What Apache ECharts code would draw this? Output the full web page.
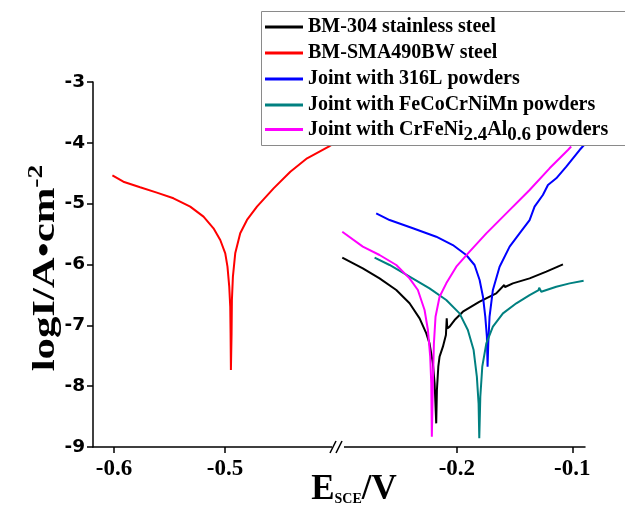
<!DOCTYPE html>
<html>
<head>
<meta charset="utf-8">
<script src="https://cdn.jsdelivr.net/npm/echarts@6/dist/echarts.min.js"></script>
<style>html,body{margin:0;padding:0;background:#fff}#c{width:625px;height:509px}</style>
</head>
<body>
<div id="c"></div>
<script>
// ---- data (E vs SCE in V, log current density) ----
const seriesNames = ['BM-304 stainless steel', 'BM-SMA490BW steel', 'Joint with 316L powders', 'Joint with FeCoCrNiMn powders', 'Joint with CrFeNi2.4Al0.6 powders'];
const seriesColors = ['#000000', '#ff0000', '#0000ff', '#008080', '#ff00ff'];
const leftTicks = [-0.6, -0.5];
const rightTicks = [-0.2, -0.1];
const yTicks = [-9, -8, -7, -6, -5, -4, -3];

const bm304 = [[-0.2993,-5.888],[-0.2815,-6.063],[-0.2670,-6.228],[-0.2525,-6.419],[-0.2410,-6.638],[-0.2323,-6.885],[-0.2265,-7.132],[-0.2237,-7.296],[-0.2208,-7.625],[-0.2193,-7.953],[-0.2179,-8.611],[-0.2173,-8.063],[-0.2161,-7.680],[-0.2150,-7.515],[-0.2121,-7.351],[-0.2095,-7.16],[-0.2088,-6.885],[-0.2083,-7.05],[-0.2063,-7.022],[-0.2020,-6.913],[-0.1948,-6.776],[-0.1803,-6.611],[-0.1659,-6.474],[-0.1590,-6.337],[-0.1583,-6.37],[-0.1515,-6.310],[-0.1370,-6.228],[-0.1225,-6.118],[-0.1081,-5.998]];
const sma490 = [[-0.6015,-4.534],[-0.5916,-4.639],[-0.5765,-4.731],[-0.5614,-4.819],[-0.5464,-4.912],[-0.5313,-5.049],[-0.5193,-5.213],[-0.5103,-5.405],[-0.5042,-5.597],[-0.4997,-5.816],[-0.4977,-6.036],[-0.4961,-6.364],[-0.4952,-6.693],[-0.4949,-7.131],[-0.4946,-7.734],[-0.4940,-7.131],[-0.4937,-6.584],[-0.4928,-6.200],[-0.4907,-5.816],[-0.4862,-5.487],[-0.4801,-5.268],[-0.4711,-5.049],[-0.4561,-4.748],[-0.4410,-4.474],[-0.4259,-4.254],[-0.4064,-4.063],[-0.3950,-3.930]];
const j316L = [[-0.2699,-5.159],[-0.2583,-5.269],[-0.2381,-5.405],[-0.2179,-5.543],[-0.2035,-5.680],[-0.1919,-5.844],[-0.1847,-6.008],[-0.1803,-6.255],[-0.1774,-6.529],[-0.1754,-6.858],[-0.1740,-7.187],[-0.1734,-7.680],[-0.1728,-7.296],[-0.1717,-6.858],[-0.1688,-6.419],[-0.1630,-6.036],[-0.1543,-5.707],[-0.1457,-5.488],[-0.1370,-5.269],[-0.1327,-5.049],[-0.1255,-4.858],[-0.1211,-4.693],[-0.1139,-4.583],[-0.1052,-4.392],[-0.0937,-4.118],[-0.0900,-4.040]];
const jHEA = [[-0.2713,-5.888],[-0.2583,-6.008],[-0.2410,-6.200],[-0.2237,-6.392],[-0.2092,-6.584],[-0.1977,-6.803],[-0.1905,-7.077],[-0.1855,-7.406],[-0.1827,-7.844],[-0.1812,-8.282],[-0.1806,-8.857],[-0.1797,-8.173],[-0.1780,-7.680],[-0.1745,-7.296],[-0.1688,-7.022],[-0.1601,-6.803],[-0.1485,-6.638],[-0.1370,-6.502],[-0.1292,-6.420],[-0.1287,-6.380],[-0.1269,-6.447],[-0.1139,-6.365],[-0.1023,-6.310],[-0.0902,-6.267]];
const jCrFeNi = [[-0.2993,-5.461],[-0.2815,-5.707],[-0.2670,-5.844],[-0.2525,-6.008],[-0.2410,-6.228],[-0.2338,-6.419],[-0.2280,-6.748],[-0.2251,-7.077],[-0.2231,-7.515],[-0.2222,-7.953],[-0.2217,-8.831],[-0.2208,-7.953],[-0.2199,-7.296],[-0.2185,-6.858],[-0.2150,-6.529],[-0.2092,-6.310],[-0.2005,-6.036],[-0.1890,-5.789],[-0.1745,-5.488],[-0.1572,-5.159],[-0.1370,-4.775],[-0.1197,-4.419],[-0.1038,-4.118],[-0.1010,-4.060]];
const seriesData = [bm304, sma490, j316L, jHEA, jCrFeNi];
const seriesSide = [1, 0, 1, 1, 1];

const serif = '"Liberation Serif", "Times New Roman", serif';
const sansWide = '"DejaVu Sans", Arial, sans-serif';

const chart = echarts.init(document.getElementById('c'), null, {renderer: 'canvas'});

function xAxisCfg(grid, min, max, ticks) {
  return {
    type: 'value', gridIndex: grid, min: min, max: max,
    axisLine: {show: true, onZero: false, lineStyle: {color: '#000', width: 1.5}},
    axisTick: {show: true, inside: false, length: 6, customValues: ticks, lineStyle: {color: '#000', width: 1.5}},
    axisLabel: {show: true, customValues: ticks, margin: 11, color: '#000', fontFamily: serif, fontWeight: 'bold', fontSize: 23, formatter: v => v.toFixed(1)},
    splitLine: {show: false}
  };
}

const legendText = {
  color: '#000', fontFamily: serif, fontWeight: 'bold', fontSize: 20, lineHeight: 22,
  rich: {
    n: {color: '#000', fontFamily: serif, fontWeight: 'bold', fontSize: 20, lineHeight: 22},
    s: {color: '#000', fontFamily: serif, fontWeight: 'bold', fontSize: 19, lineHeight: 10, padding: [12, 0, 0, 0]}
  }
};
const legendBase = {
  orient: 'vertical', left: 265, padding: 0, itemGap: 4,
  itemWidth: 38, itemHeight: 3, z: 20,
  icon: 'path://M0,0 L38,0 L38,3 L0,3 Z',
  textStyle: legendText
};

const option = {
  animation: false,
  backgroundColor: '#fff',
  grid: [
    {left: 93, top: 82, width: 245, height: 365, containLabel: false},
    {left: 338, top: 82, width: 247, height: 365, containLabel: false}
  ],
  xAxis: [xAxisCfg(0, -0.619, -0.398, leftTicks), xAxisCfg(1, -0.303, -0.089, rightTicks)],
  yAxis: [
    {
      type: 'value', gridIndex: 0, min: -9, max: -3, interval: 1,
      axisLine: {show: true, onZero: false, lineStyle: {color: '#000', width: 1.5}},
      axisTick: {show: true, inside: false, length: 6, lineStyle: {color: '#000', width: 1.5}},
      axisLabel: {margin: 8, color: '#000', fontFamily: sansWide, fontWeight: 'bold', fontSize: 18.5, formatter: v => String(v)},
      splitLine: {show: false}
    },
    {type: 'value', gridIndex: 1, min: -9, max: -3, interval: 1, show: false, splitLine: {show: false}}
  ],
  legend: [
    Object.assign({}, legendBase, {top: 16, data: seriesNames.slice(0, 4)}),
    Object.assign({}, legendBase, {
      top: 114, data: [seriesNames[4]],
      formatter: function () { return '{n|Joint with CrFeNi}{s|2.4}{n|Al}{s|0.6}{n| powders}'; }
    })
  ],
  graphic: [
    {type: 'rect', z: 15, shape: {x: 261.5, y: 11.5, width: 420, height: 134}, style: {fill: '#fff', stroke: '#8a8a8a', lineWidth: 1}},
    {type: 'rect', z: 30, shape: {x: 332, y: 443, width: 12, height: 8}, style: {fill: '#fff'}},
    {type: 'line', z: 31, shape: {x1: 330, y1: 453, x2: 336, y2: 441}, style: {stroke: '#000', lineWidth: 1.5}},
    {type: 'line', z: 31, shape: {x1: 336, y1: 453, x2: 342, y2: 441}, style: {stroke: '#000', lineWidth: 1.5}},
    {
      type: 'text', z: 30, x: 46, y: 268, rotation: Math.PI / 2, scaleX: 1.38,
      style: {
        text: '{t|logI/A•cm}{p|-2}', textAlign: 'center', textVerticalAlign: 'middle',
        rich: {
          t: {fontFamily: serif, fontWeight: 'bold', fontSize: 31, fill: '#000', lineHeight: 34},
          p: {fontFamily: serif, fontWeight: 'bold', fontSize: 20, fill: '#000', lineHeight: 34, padding: [0, 0, 18, 0]}
        }
      }
    },
    {
      type: 'text', z: 30, x: 354, y: 490,
      style: {
        text: '{e|E}{s|SCE}{e|/V}', textAlign: 'center', textVerticalAlign: 'middle',
        rich: {
          e: {fontFamily: serif, fontWeight: 'bold', fontSize: 35, fill: '#000', lineHeight: 36},
          s: {fontFamily: serif, fontWeight: 'bold', fontSize: 14, fill: '#000', lineHeight: 36, padding: [18, 0, 0, 0]}
        }
      }
    }
  ],
  series: seriesNames.map((nm, i) => ({
    name: nm, type: 'line',
    xAxisIndex: seriesSide[i], yAxisIndex: seriesSide[i],
    data: seriesData[i], showSymbol: false, symbol: 'none', clip: true, z: 2,
    color: seriesColors[i],
    lineStyle: {color: seriesColors[i], width: 2}
  }))
};
chart.setOption(option);
</script>
</body>
</html>
